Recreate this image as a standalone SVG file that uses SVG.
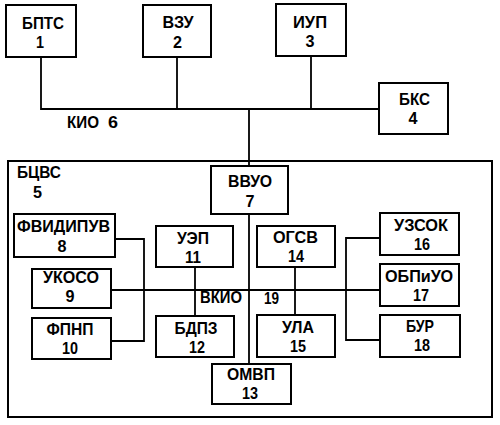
<svg xmlns="http://www.w3.org/2000/svg" width="500" height="425" viewBox="0 0 500 425">
<style>
rect{fill:#fff;stroke:#000;stroke-width:2}
#connectors path{fill:none;stroke:#000;stroke-width:1.8}
text{font-family:"Liberation Sans",Arial,sans-serif;font-size:17px;font-weight:bold;fill:#000;text-anchor:middle}
.l{text-anchor:start}
</style>
<rect x="0" y="0" width="500" height="425" style="stroke:none"/>
<g id="n5"><rect x="8" y="161" width="484" height="256"/>
<text class="l" x="17" y="178" textLength="44" lengthAdjust="spacingAndGlyphs">БЦВС</text>
<text x="37.5" y="198" textLength="9" lengthAdjust="spacingAndGlyphs">5</text></g>
<g id="connectors">
<path d="M41 57V109H379"/>
<path d="M177 57V109"/>
<path d="M311 56V109"/>
<path d="M249 109V166"/>
<path d="M249 214V364"/>
<path d="M195 267V316"/>
<path d="M295 267V315"/>
<path d="M111 290H380"/>
<path d="M115 239H144V341H111"/>
<path d="M380 238H346V340H380"/>
</g>
<g id="n1"><rect x="6" y="5" width="70" height="52"/>
<text x="43" y="29" textLength="42" lengthAdjust="spacingAndGlyphs">БПТС</text>
<text x="40" y="48" textLength="8" lengthAdjust="spacingAndGlyphs">1</text></g>
<g id="n2"><rect x="143" y="5" width="68" height="52"/>
<text x="178" y="28" textLength="31" lengthAdjust="spacingAndGlyphs">ВЗУ</text>
<text x="177.5" y="48" textLength="9" lengthAdjust="spacingAndGlyphs">2</text></g>
<g id="n3"><rect x="276" y="4" width="70" height="52"/>
<text x="310" y="28" textLength="34" lengthAdjust="spacingAndGlyphs">ИУП</text>
<text x="310" y="47" textLength="9" lengthAdjust="spacingAndGlyphs">3</text></g>
<g id="n4"><rect x="379" y="83" width="69" height="51"/>
<text x="414.5" y="105" textLength="31" lengthAdjust="spacingAndGlyphs">БКС</text>
<text x="413" y="124" textLength="9" lengthAdjust="spacingAndGlyphs">4</text></g>
<g id="n6"><text class="l" x="67" y="128" textLength="32" lengthAdjust="spacingAndGlyphs">КИО</text>
<text class="l" x="108" y="128" textLength="10" lengthAdjust="spacingAndGlyphs">6</text></g>
<g id="n7"><rect x="211" y="166" width="77" height="48"/>
<text x="250" y="187" textLength="44" lengthAdjust="spacingAndGlyphs">ВВУО</text>
<text x="250" y="207" textLength="9" lengthAdjust="spacingAndGlyphs">7</text></g>
<g id="n8"><rect x="14" y="214" width="101" height="43"/>
<text x="63.5" y="232" textLength="93" lengthAdjust="spacingAndGlyphs">ФВИДИПУВ</text>
<text x="62" y="252" textLength="9" lengthAdjust="spacingAndGlyphs">8</text></g>
<g id="n9"><rect x="32" y="269" width="79" height="39"/>
<text x="71" y="283" textLength="56" lengthAdjust="spacingAndGlyphs">УКОСО</text>
<text x="70" y="302" textLength="9" lengthAdjust="spacingAndGlyphs">9</text></g>
<g id="n10"><rect x="32" y="318" width="79" height="41"/>
<text x="70" y="335" textLength="47" lengthAdjust="spacingAndGlyphs">ФПНП</text>
<text x="70" y="354" textLength="16" lengthAdjust="spacingAndGlyphs">10</text></g>
<g id="n11"><rect x="156" y="226" width="77" height="41"/>
<text x="193" y="244" textLength="32" lengthAdjust="spacingAndGlyphs">УЭП</text>
<text x="193" y="263" textLength="16" lengthAdjust="spacingAndGlyphs">11</text></g>
<g id="n12"><rect x="156" y="316" width="78" height="41"/>
<text x="196" y="334" textLength="43" lengthAdjust="spacingAndGlyphs">БДПЗ</text>
<text x="197" y="353" textLength="16" lengthAdjust="spacingAndGlyphs">12</text></g>
<g id="n13"><rect x="212" y="364" width="79" height="40"/>
<text x="251" y="380" textLength="48" lengthAdjust="spacingAndGlyphs">ОМВП</text>
<text x="250" y="399" textLength="16" lengthAdjust="spacingAndGlyphs">13</text></g>
<g id="n14"><rect x="257" y="226" width="78" height="41"/>
<text x="295.5" y="243" textLength="45" lengthAdjust="spacingAndGlyphs">ОГСВ</text>
<text x="296" y="262" textLength="16" lengthAdjust="spacingAndGlyphs">14</text></g>
<g id="n15"><rect x="257" y="315" width="78" height="42"/>
<text x="298" y="333" textLength="32" lengthAdjust="spacingAndGlyphs">УЛА</text>
<text x="298" y="352" textLength="16" lengthAdjust="spacingAndGlyphs">15</text></g>
<g id="n16"><rect x="380" y="213" width="79" height="42"/>
<text x="421" y="231" textLength="54" lengthAdjust="spacingAndGlyphs">УЗСОК</text>
<text x="422" y="250" textLength="16" lengthAdjust="spacingAndGlyphs">16</text></g>
<g id="n17"><rect x="380" y="264" width="79" height="42"/>
<text x="419" y="282" textLength="68" lengthAdjust="spacingAndGlyphs">ОБПиУО</text>
<text x="421" y="301" textLength="16" lengthAdjust="spacingAndGlyphs">17</text></g>
<g id="n18"><rect x="380" y="315" width="80" height="42"/>
<text x="420" y="332" textLength="28" lengthAdjust="spacingAndGlyphs">БУР</text>
<text x="422" y="351" textLength="16" lengthAdjust="spacingAndGlyphs">18</text></g>
<g id="n19"><text class="l" x="200" y="303" textLength="42" lengthAdjust="spacingAndGlyphs">ВКИО</text>
<text class="l" x="264" y="304" textLength="15" lengthAdjust="spacingAndGlyphs">19</text></g>
</svg>
